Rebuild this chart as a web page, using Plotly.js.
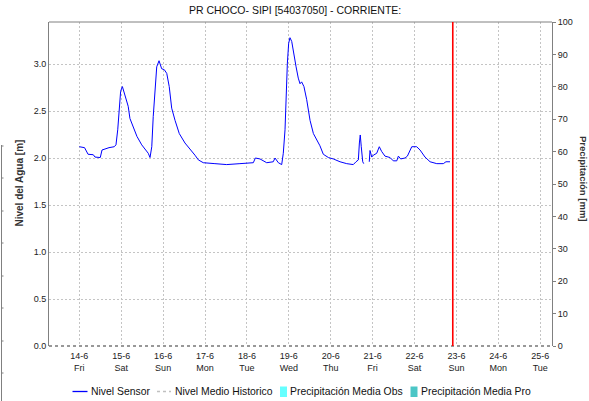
<!DOCTYPE html>
<html>
<head>
<meta charset="utf-8">
<script src="https://cdn.plot.ly/plotly-3.0.1.min.js"></script>
<style>html,body{margin:0;padding:0;background:#fff;}#chart{width:589px;height:401px;}</style>
</head>
<body>
<div id="chart"></div>
<script>
// ---- Data ----
const chartTitle = "PR CHOCO- SIPI [54037050] - CORRIENTE:";
const sensorTimes = [
"2019-06-14 00:00","2019-06-14 03:00","2019-06-14 05:00","2019-06-14 08:00","2019-06-14 09:00","2019-06-14 12:00",
"2019-06-14 13:00","2019-06-14 17:00","2019-06-14 20:00","2019-06-14 21:00","2019-06-14 22:00","2019-06-14 23:00",
"2019-06-14 23:40","2019-06-15 00:40","2019-06-15 02:10","2019-06-15 04:00","2019-06-15 05:00","2019-06-15 07:00",
"2019-06-15 09:00","2019-06-15 11:45","2019-06-15 14:10","2019-06-15 15:30","2019-06-15 16:30","2019-06-15 17:30",
"2019-06-15 18:20","2019-06-15 19:20","2019-06-15 20:20","2019-06-15 21:40","2019-06-15 23:10","2019-06-16 00:40",
"2019-06-16 02:05","2019-06-16 03:30","2019-06-16 04:55","2019-06-16 06:50","2019-06-16 09:15","2019-06-16 12:30",
"2019-06-16 15:25","2019-06-16 18:15","2019-06-16 20:10","2019-06-16 23:00","2019-06-17 05:40","2019-06-17 12:25",
"2019-06-17 20:00","2019-06-18 03:40","2019-06-18 04:50","2019-06-18 07:30","2019-06-18 11:20","2019-06-18 15:05",
"2019-06-18 16:05","2019-06-18 18:00","2019-06-18 19:55","2019-06-18 20:50","2019-06-18 21:50","2019-06-18 22:25",
"2019-06-18 23:10","2019-06-18 23:55","2019-06-19 00:40","2019-06-19 01:40","2019-06-19 02:35","2019-06-19 04:10",
"2019-06-19 05:25","2019-06-19 06:25","2019-06-19 07:20","2019-06-19 08:40","2019-06-19 10:15","2019-06-19 12:10",
"2019-06-19 14:05","2019-06-19 16:00","2019-06-19 17:50","2019-06-19 19:45","2019-06-19 22:40","2019-06-20 01:30",
"2019-06-20 05:20","2019-06-20 09:10","2019-06-20 12:55","2019-06-20 14:30","2019-06-20 15:50","2019-06-20 16:25",
"2019-06-20 16:55","2019-06-20 17:30","2019-06-20 18:20","2019-06-20 18:55","2019-06-20 19:30","2019-06-20 22:05",
"2019-06-20 22:30","2019-06-20 23:30","2019-06-21 00:25","2019-06-21 02:20","2019-06-21 03:50","2019-06-21 05:10",
"2019-06-21 07:05","2019-06-21 10:00","2019-06-21 11:50","2019-06-21 13:50","2019-06-21 14:45","2019-06-21 16:05",
"2019-06-21 18:35","2019-06-21 19:55","2019-06-21 22:25","2019-06-22 01:15","2019-06-22 03:10","2019-06-22 06:00",
"2019-06-22 08:55","2019-06-22 12:45","2019-06-22 16:30","2019-06-22 18:00","2019-06-22 20:20"
];
const sensorLevels = [
2.12,2.11,2.04,2.035,2.01,2.005,
2.085,2.11,2.12,2.14,2.30,2.51,
2.71,2.76,2.67,2.55,2.42,2.33,
2.23,2.14,2.08,2.05,2.005,2.12,
2.44,2.76,2.97,3.035,2.95,2.94,
2.90,2.76,2.53,2.40,2.26,2.16,
2.10,2.03,1.98,1.95,1.94,1.93,
1.94,1.95,2.00,1.99,1.95,1.96,
2.00,1.95,1.93,2.05,2.30,2.65,
3.01,3.22,3.28,3.24,3.13,2.97,
2.85,2.79,2.81,2.76,2.62,2.40,
2.26,2.19,2.13,2.04,2.005,1.99,
1.96,1.94,1.93,1.96,1.98,2.16,
2.245,2.12,1.96,1.94,null,1.96,
2.08,2.01,2.03,2.05,2.12,2.07,
2.02,2.005,1.97,1.97,2.02,1.99,
2.00,2.02,2.12,2.12,2.085,2.01,
1.96,1.94,1.94,1.96,1.96
];
const historicTimes = [];
const historicLevels = [];
const precipObsTimes = [];
const precipObs = [];
const precipProTimes = [];
const precipPro = [];
const tickDates = ["2019-06-14","2019-06-15","2019-06-16","2019-06-17","2019-06-18","2019-06-19",
                   "2019-06-20","2019-06-21","2019-06-22","2019-06-23","2019-06-24","2019-06-25"];
const tickLabels = ["14-6<br>Fri","15-6<br>Sat","16-6<br>Sun","17-6<br>Mon","18-6<br>Tue","19-6<br>Wed",
                    "20-6<br>Thu","21-6<br>Fri","22-6<br>Sat","23-6<br>Sun","24-6<br>Mon","25-6<br>Tue"];
const nowMarker = "2019-06-22 21:55";
const legendNames = ["Nivel Sensor","Nivel Medio Historico","Precipitación Media Obs","Precipitación Media Pro"];

// ---- Layout helpers (pixel -> paper) ----
const W = 589, H = 401, L = 49, R = 37, T = 22, B = 55;
const pw = W - L - R, ph = H - T - B;
const px = x => (x - L) / pw;
const py = y => (H - B - y) / ph;
const FONT = "Liberation Sans, Arial, sans-serif";

const traces = [
  {x: sensorTimes, y: sensorLevels, type: "scatter", mode: "lines", name: legendNames[0],
   line: {color: "#0000ff", width: 1}, connectgaps: false, showlegend: false, hoverinfo: "skip"},
  {x: historicTimes, y: historicLevels, type: "scatter", mode: "lines", name: legendNames[1],
   line: {color: "#c0c0c0", width: 1, dash: "dot"}, showlegend: false},
  {x: precipObsTimes, y: precipObs, type: "bar", name: legendNames[2], yaxis: "y2",
   marker: {color: "#66ffff"}, showlegend: false},
  {x: precipProTimes, y: precipPro, type: "bar", name: legendNames[3], yaxis: "y2",
   marker: {color: "#4cc6c6"}, showlegend: false}
];

const shapes = [
  // top border
  {type: "line", xref: "paper", yref: "paper", x0: 0, x1: 1, y0: 1, y1: 1, line: {color: "#808080", width: 1}},
  // bottom dotted axis
  {type: "line", xref: "paper", yref: "paper", x0: 0, x1: 1, y0: 0, y1: 0,
   line: {color: "#333333", width: 1.2, dash: "dot"}},
  // current-time marker
  {type: "line", xref: "x", yref: "paper", x0: nowMarker, x1: nowMarker, y0: 0, y1: 1,
   line: {color: "#ff0000", width: 1.6}},
  // legend symbols
  {type: "line", xref: "paper", yref: "paper", x0: px(72.5), x1: px(87.5), y0: py(391.5), y1: py(391.5),
   line: {color: "#0000ff", width: 1.3}},
  {type: "line", xref: "paper", yref: "paper", x0: px(157), x1: px(171), y0: py(391.5), y1: py(391.5),
   line: {color: "#c0c0c0", width: 1.3, dash: "dot"}},
  {type: "rect", xref: "paper", yref: "paper", x0: px(280), x1: px(287), y0: py(397), y1: py(386.5),
   line: {width: 0}, fillcolor: "#66ffff"},
  {type: "rect", xref: "paper", yref: "paper", x0: px(410.5), x1: px(417.5), y0: py(397), y1: py(386.5),
   line: {width: 0}, fillcolor: "#4cc6c6"},
  // partial axis at far left edge
  {type: "line", xref: "paper", yref: "paper", x0: px(1.5), x1: px(1.5), y0: py(145), y1: py(401),
   line: {color: "#808080", width: 1}}
];
[146, 178, 211, 243, 276, 308, 341, 373].forEach(v => shapes.push(
  {type: "line", xref: "paper", yref: "paper", x0: px(1.5), x1: px(3.5), y0: py(v), y1: py(v),
   line: {color: "#808080", width: 1}}));

const legendX = [88.5, 173, 288, 419];
const annotations = legendNames.map((n, i) => ({
  text: n, xref: "paper", yref: "paper", x: px(legendX[i]), y: py(391.5),
  xanchor: "left", yanchor: "middle", showarrow: false,
  font: {family: FONT, size: 10.4, color: "#111"}
}));
annotations.push({text: "Nivel del Agua [m]", xref: "paper", yref: "paper", x: px(18.5), y: py(183),
  textangle: -90, showarrow: false, xanchor: "center", yanchor: "middle",
  font: {family: FONT, size: 10, color: "#333", weight: "bold"}});
annotations.push({text: "Precipitación [mm]", xref: "paper", yref: "paper", x: px(584), y: py(179),
  textangle: 90, showarrow: false, xanchor: "center", yanchor: "middle",
  font: {family: FONT, size: 9.5, color: "#333", weight: "bold"}});

const layout = {
  width: W, height: H,
  margin: {l: L, r: R, t: T, b: B, pad: 0},
  paper_bgcolor: "#ffffff", plot_bgcolor: "#ffffff",
  title: {text: chartTitle, x: px(301), xanchor: "center", y: 1 - 10/H, yanchor: "middle",
          font: {family: FONT, size: 10.5, color: "#111"}},
  showlegend: false,
  font: {family: FONT, size: 9, color: "#222"},
  xaxis: {
    type: "date", range: ["2019-06-13 06:38", "2019-06-25 06:45"],
    tickmode: "array", tickvals: tickDates, ticktext: tickLabels,
    showgrid: true, gridcolor: "#c4c4c4", griddash: "2px,2px", gridwidth: 1,
    showline: false, zeroline: false, ticks: "", ticklen: 0, ticklabelstandoff: 3,
    tickfont: {family: FONT, size: 9, color: "#222"}, fixedrange: true
  },
  yaxis: {
    range: [0, 3.447], tickmode: "linear", tick0: 0, dtick: 0.5, tickformat: ".1f",
    showgrid: true, gridcolor: "#c4c4c4", griddash: "2px,2px", gridwidth: 1,
    showline: true, linecolor: "#808080", linewidth: 1, mirror: false,
    zeroline: false, ticks: "", tickfont: {family: FONT, size: 9, color: "#222"}
  },
  yaxis2: {
    overlaying: "y", side: "right", range: [0, 100], tickmode: "linear", tick0: 0, dtick: 10,
    showgrid: false, zeroline: false, showline: true, linecolor: "#808080", linewidth: 1,
    ticks: "outside", ticklen: 3, tickcolor: "#808080",
    tickfont: {family: FONT, size: 9, color: "#222"}
  },
  shapes: shapes,
  annotations: annotations
};

Plotly.newPlot("chart", traces, layout, {staticPlot: true, displayModeBar: false});
</script>
</body>
</html>
